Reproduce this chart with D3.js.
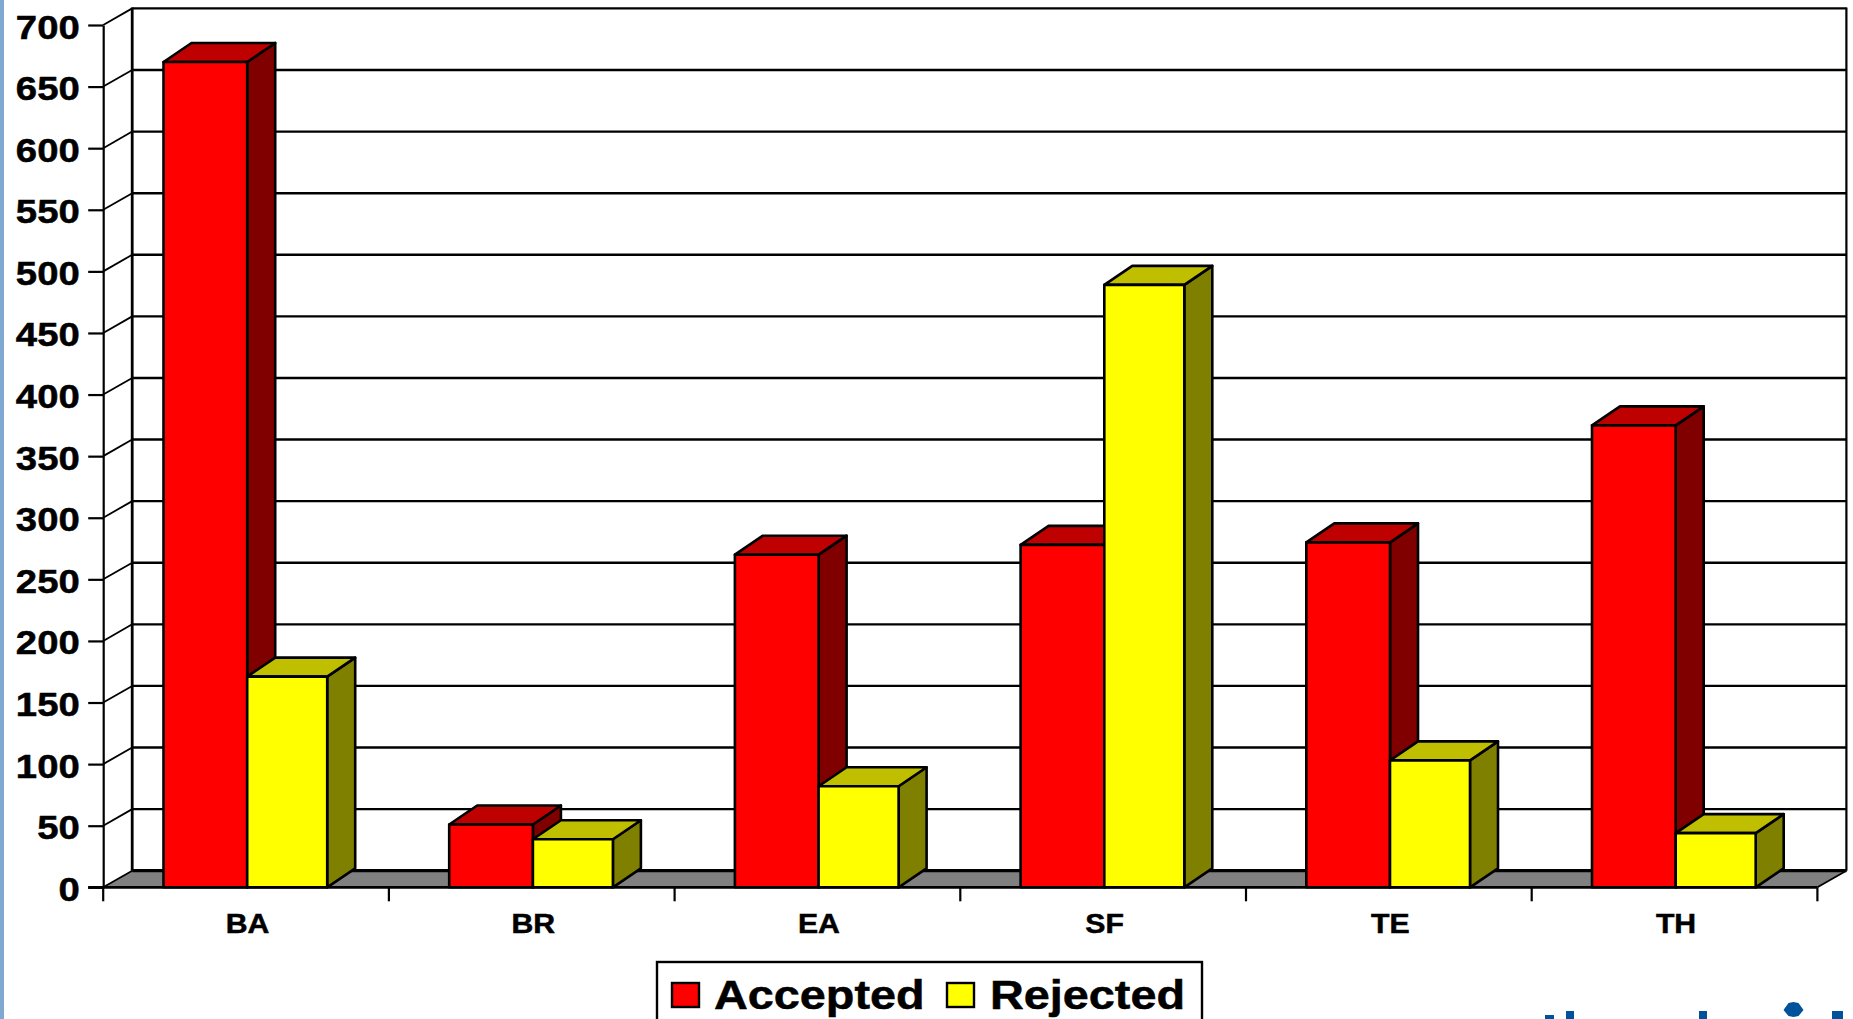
<!DOCTYPE html>
<html>
<head>
<meta charset="utf-8">
<script src="https://cdn.jsdelivr.net/npm/d3@7"></script>
<style>
  html, body { margin: 0; padding: 0; background: #fff; overflow: hidden; }
  svg { display: block; }
  text { font-family: "Liberation Sans", Arial, sans-serif; font-weight: bold; fill: #000; stroke: #000; stroke-width: 0.5px; }
</style>
</head>
<body>
<script>
const categories = ['BA', 'BR', 'EA', 'SF', 'TE', 'TH'];
const seriesNames = ['Accepted', 'Rejected'];
const accepted = [670, 51, 270, 278, 280, 375];
const rejected = [171, 39, 82, 489, 103, 44];
const yTicks = [0, 50, 100, 150, 200, 250, 300, 350, 400, 450, 500, 550, 600, 650, 700];

const width = 1853, height = 1019;
const wallDx = 29, wallDy = 16.6;   // depth of the chart box
const barDx = 28, barDy = 19;       // depth of the bars

const colors = {
    Accepted: { front: '#ff0000', top: '#bf0000', side: '#800000' },
    Rejected: { front: '#ffff00', top: '#bfbf00', side: '#808000' }
};

const svg = d3.select('body').append('svg')
    .attr('width', width)
    .attr('height', height);

svg.append('rect').attr('width', 4).attr('height', height).attr('fill', '#7fa8d2');

const x = d3.scaleBand().domain(categories).range([103.2, 1817.4]);
// the red bars come out a little wider than the yellow ones in the picture
const barLeft = d3.scaleOrdinal().domain(seriesNames).range([60.3, 144]);
const barRight = d3.scaleOrdinal().domain(seriesNames).range([144, 224]);
const y = d3.scaleLinear().domain([0, 700]).range([887.3, 25]);

const x0 = x.range()[0], x1 = x.range()[1];

// floor
svg.append('path')
    .attr('d', d3.line()([[x0, y(0)], [x0 + wallDx, y(0) - wallDy], [x1 + wallDx, y(0) - wallDy], [x1, y(0)]]) + 'Z')
    .attr('fill', '#808080');

// gridlines on the back wall
svg.append('g').selectAll('line').data(yTicks).join('line')
    .attr('x1', x0 + wallDx)
    .attr('x2', x1 + wallDx)
    .attr('y1', d => y(d) - wallDy)
    .attr('y2', d => y(d) - wallDy)
    .attr('stroke', '#000')
    .attr('stroke-width', d => d === 0 ? 3.2 : 2.4);

// side wall diagonals
svg.append('g').selectAll('line').data(yTicks).join('line')
    .attr('x1', x0)
    .attr('x2', x0 + wallDx)
    .attr('y1', d => y(d))
    .attr('y2', d => y(d) - wallDy)
    .attr('stroke', '#000')
    .attr('stroke-width', 1.8);

// back wall edges
svg.append('line')
    .attr('x1', x0 + wallDx).attr('x2', x0 + wallDx)
    .attr('y1', y(700) - wallDy - 1).attr('y2', y(0) - wallDy)
    .attr('stroke', '#000').attr('stroke-width', 2.8);
svg.append('line')
    .attr('x1', x1 + wallDx).attr('x2', x1 + wallDx)
    .attr('y1', y(700) - wallDy - 1).attr('y2', y(0) - wallDy)
    .attr('stroke', '#000').attr('stroke-width', 2.2);
svg.append('line')
    .attr('x1', x1).attr('x2', x1 + wallDx)
    .attr('y1', y(0)).attr('y2', y(0) - wallDy)
    .attr('stroke', '#000').attr('stroke-width', 1.8);

// y axis
const yAxis = svg.append('g')
    .attr('transform', `translate(${x0},0)`)
    .call(d3.axisLeft(y).tickValues(yTicks).tickSize(15).tickSizeOuter(0));
yAxis.select('.domain').attr('stroke', '#000').attr('stroke-width', 2.2);
yAxis.selectAll('.tick line').attr('stroke', '#000').attr('stroke-width', 2.2);
yAxis.selectAll('.tick text')
    .attr('x', null).attr('dy', null)
    .attr('transform', 'translate(-23.5,13) scale(1.16,1)')
    .attr('text-anchor', 'end')
    .style('font-family', '"Liberation Sans", Arial, sans-serif')
    .style('font-weight', 'bold')
    .style('font-size', '33px');

// bars
function barShape(g, name, values) {
    const c = colors[name];
    const bars = g.selectAll('g').data(categories.map((d, i) => ({ cat: d, val: values[i] }))).join('g');
    const left = d => x(d.cat) + barLeft(name);
    const right = d => x(d.cat) + barRight(name);
    const line = d3.line();
    bars.append('path')
        .attr('d', d => line([[right(d), y(d.val)], [right(d) + barDx, y(d.val) - barDy], [right(d) + barDx, y(0) - barDy], [right(d), y(0)]]) + 'Z')
        .attr('fill', c.side);
    bars.append('path')
        .attr('d', d => line([[left(d), y(d.val)], [left(d) + barDx, y(d.val) - barDy], [right(d) + barDx, y(d.val) - barDy], [right(d), y(d.val)]]) + 'Z')
        .attr('fill', c.top);
    bars.append('rect')
        .attr('x', left)
        .attr('y', d => y(d.val))
        .attr('width', d => right(d) - left(d))
        .attr('height', d => y(0) - y(d.val))
        .attr('fill', c.front);
    bars.selectAll('path, rect')
        .attr('stroke', '#000')
        .attr('stroke-width', 2.6)
        .attr('stroke-linejoin', 'round');
}
barShape(svg.append('g'), 'Accepted', accepted);
barShape(svg.append('g'), 'Rejected', rejected);

// x axis
svg.append('line')
    .attr('x1', x0 - 15).attr('x2', x1)
    .attr('y1', y(0)).attr('y2', y(0))
    .attr('stroke', '#000').attr('stroke-width', 2.8);
svg.append('g').selectAll('line').data(categories.concat(['end'])).join('line')
    .attr('x1', d => d === 'end' ? x1 : x(d))
    .attr('x2', d => d === 'end' ? x1 : x(d))
    .attr('y1', y(0))
    .attr('y2', y(0) + 14)
    .attr('stroke', '#000')
    .attr('stroke-width', 2.2);
const xAxis = svg.append('g')
    .attr('transform', `translate(0,${y(0)})`)
    .call(d3.axisBottom(x).tickSize(0));
xAxis.select('.domain').remove();
xAxis.selectAll('.tick text')
    .attr('y', null).attr('dy', null)
    .attr('transform', 'translate(1.5,45.5) scale(1.12,1)')
    .attr('text-anchor', 'middle')
    .style('font-family', '"Liberation Sans", Arial, sans-serif')
    .style('font-weight', 'bold')
    .style('font-size', '27px');

// legend
const legend = svg.append('g');
legend.append('rect')
    .attr('x', 657).attr('y', 962)
    .attr('width', 545).attr('height', 80)
    .attr('fill', '#fff').attr('stroke', '#000').attr('stroke-width', 2.4);
const legendX = d3.scaleOrdinal().domain(seriesNames).range([672, 947]);
const legendTextX = d3.scaleOrdinal().domain(seriesNames).range([714, 990]);
legend.selectAll('rect.swatch').data(seriesNames).join('rect')
    .attr('class', 'swatch')
    .attr('x', d => legendX(d))
    .attr('y', 983)
    .attr('width', 27)
    .attr('height', 24)
    .attr('fill', d => colors[d].front)
    .attr('stroke', '#000')
    .attr('stroke-width', 2.4);
legend.selectAll('text').data(seriesNames).join('text')
    .attr('transform', d => `translate(${legendTextX(d)},1009) scale(1.17,1)`)
    .style('font-size', '40px')
    .text(d => d);

// cut off logo at the bottom edge
svg.append('path')
    .attr('fill', '#00529b')
    .attr('d', 'M1545 1015h9v4h-9ZM1566 1011h8v8h-8ZM1699 1011h8v8h-8ZM1832 1011h11v8h-11Z' +
        'M1793.5 1002l5 1 5 7-5 6-5 1-5-1-5-6 5-7Z');
</script>
</body>
</html>
